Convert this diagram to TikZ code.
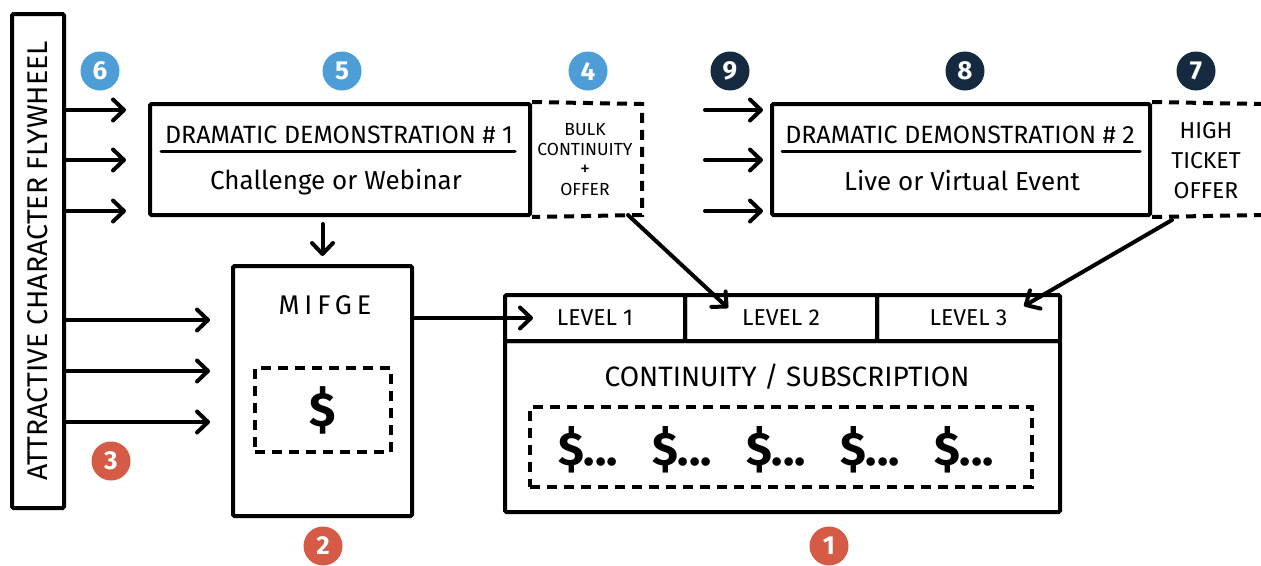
\documentclass[tikz,border=0pt]{standalone}
\usepackage{fontspec}
\setmainfont{Fira Sans}
\usetikzlibrary{arrows.meta}
\definecolor{stepblue}{HTML}{4D9DD7}
\definecolor{stepnavy}{HTML}{152A3E}
\definecolor{stepred}{HTML}{D65B46}
\tikzset{
  box/.style = {draw, line width=4pt, rounded corners=1.5pt, inner sep=0pt},
  dashline/.style = {line width=4pt, dash pattern=on 10pt off 7pt},
  rule/.style = {line width=3pt, line cap=round},
  flow/.style = {line width=4pt, line cap=round,
    -{Straight Barb[length=11pt, width=21pt, line cap=round, round]}},
  badge/.style = {circle, fill=#1, text=white, minimum size=39pt, inner sep=0pt,
    font=\fontsize{26}{26}\selectfont\bfseries},
  headtxt/.style = {font=\fontsize{25}{25}\selectfont},
  maintxt/.style = {font=\fontsize{26}{26}\selectfont},
  leveltxt/.style = {font=\fontsize{23}{23}\selectfont},
  offertxt/.style = {align=center}
}

\begin{document}
\begin{tikzpicture}[x=1pt, y=-1pt]
  \useasboundingbox (0,0) rectangle (1261,565);

  % flywheel column
  \node[box, minimum width=52pt, minimum height=494pt] (flywheel) at (38,261) {};
  \node[rotate=90, font=\fontsize{28.5}{28.5}\selectfont] (flytext) at (flywheel.center) {ATTRACTIVE CHARACTER FLYWHEEL};

  % first demonstration + bulk offer
  \node[box, minimum width=380pt, minimum height=111pt] (dd1) at (340,159.5) {};
  \node[headtxt] (dd1head) at (339,135) {DRAMATIC DEMONSTRATION \# 1};
  \draw[rule] (161,151) -- (515,151);
  \node[maintxt] (dd1main) at (336,182) {Challenge or Webinar};
  \node[offertxt, font=\fontsize{17.5}{20}\selectfont] (bulk) at (585,160) {BULK\\CONTINUITY\\{\fontsize{20}{16}\selectfont +}\\OFFER};
  \draw[dashline] (dd1.north east) -- (642,104) -- (642,215) -- (dd1.south east);

  % second demonstration + high ticket
  \node[box, minimum width=378pt, minimum height=111pt] (dd2) at (961,159.5) {};
  \node[headtxt] (dd2head) at (960,135) {DRAMATIC DEMONSTRATION \# 2};
  \draw[rule] (782,151) -- (1140,151);
  \node[maintxt] (dd2main) at (962,181) {Live or Virtual Event};
  \node[offertxt, font=\fontsize{23}{30}\selectfont] (ticket) at (1206,161) {HIGH\\TICKET\\OFFER};
  \draw[dashline] (dd2.north east) -- (1261,104);
  \draw[dashline] (dd2.south east) -- (1261,215);

  % mifge
  \node[box, minimum width=179pt, minimum height=250pt] (mifge) at (322.5,391) {};
  \node[font=\fontsize{27}{27}\selectfont\addfontfeature{LetterSpace=18}] (mifgetxt) at (325,305) {MIFGE};
  \node[draw, dashline, minimum width=136pt, minimum height=84pt] (onecash) at (323,410) {};
  \node[font=\fontsize{48}{48}\selectfont\bfseries] (onecashtxt) at (onecash) {\$};

  % continuity
  \node[box, minimum width=180pt, minimum height=46pt, leveltxt] (level1) at (595,318) {LEVEL 1};
  \node[box, minimum width=192pt, minimum height=46pt, leveltxt] (level2) at (781,318) {LEVEL 2};
  \node[box, minimum width=183pt, minimum height=46pt, leveltxt] (level3) at (968.5,318) {LEVEL 3};
  \node[box, minimum width=555pt, minimum height=171pt] (contin) at (782.5,426.5) {};
  \node[font=\fontsize{28}{28}\selectfont] (contintxt) at (787,377) {CONTINUITY / SUBSCRIPTION};
  \node[draw, dashline, minimum width=502pt, minimum height=80pt] (cashrow) at (781,447) {};
  \foreach \i in {0,...,4}
    \node[font=\fontsize{47}{47}\selectfont\bfseries] (cash\i) at (588+94*\i,450) {\$...};

  % connectors
  \foreach \y in {110,160,211}
    \draw[flow, shorten >=22pt] (flywheel.east |- 0,\y) -- (dd1.west |- 0,\y);
  \foreach \y in {320,371,422}
    \draw[flow, shorten >=21pt] (flywheel.east |- 0,\y) -- (mifge.west |- 0,\y);
  \foreach \y in {110,160,211}
    \draw[flow, shorten <=63pt, shorten >=7pt] (642,\y) -- (dd2.west |- 0,\y);
  \draw[flow, shorten <=7pt, shorten >=8pt] (mifge.north |- dd1.south) -- (mifge.north);
  \draw[flow] (mifge.east |- level1) -- ([xshift=30pt]level1.west);
  \draw[flow] ([xshift=-14pt]642,215) -- ([shift={(45,15)}]level2.north west);
  \draw[flow] ([shift={(20,3)}]dd2.south east) -- ([shift={(-38,13)}]level3.north east);

  % step badges
  \node[badge=stepblue] (n6) at (100,71) {6};
  \node[badge=stepblue] (n5) at (342,71) {5};
  \node[badge=stepblue] (n4) at (588,71) {4};
  \node[badge=stepnavy] (n9) at (730,71) {9};
  \node[badge=stepnavy] (n8) at (965,71) {8};
  \node[badge=stepnavy] (n7) at (1196,71) {7};
  \node[badge=stepred] (n3) at (111,461) {3};
  \node[badge=stepred] (n2) at (323,546) {2};
  \node[badge=stepred] (n1) at (829,546) {1};
\end{tikzpicture}
\end{document}
